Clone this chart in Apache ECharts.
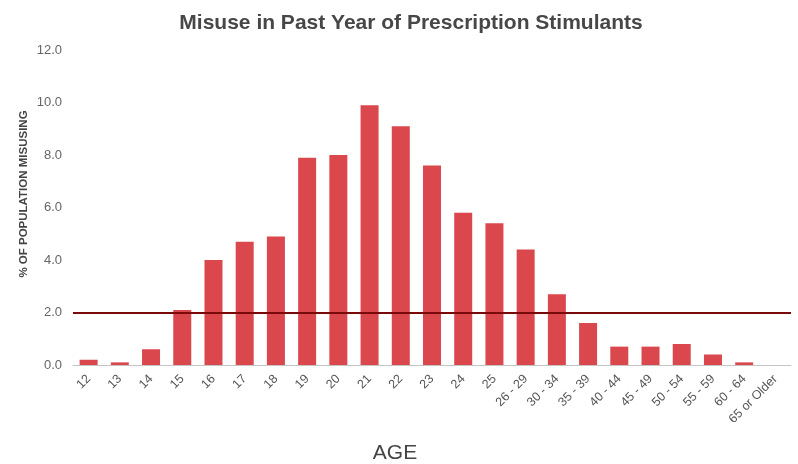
<!DOCTYPE html>
<html>
<head>
<meta charset="utf-8">
<style>
  html, body { margin: 0; padding: 0; background: #ffffff; }
  #chart { width: 798px; height: 464px; }
</style>
<script src="https://cdn.jsdelivr.net/npm/echarts@6/dist/echarts.min.js"></script>
</head>
<body>
<div id="chart"></div>
<script>
// Age groups and percentage of each group misusing prescription stimulants
const ageGroups = ['12', '13', '14', '15', '16', '17', '18', '19', '20', '21', '22', '23', '24', '25',
  '26 - 29', '30 - 34', '35 - 39', '40 - 44', '45 - 49', '50 - 54', '55 - 59', '60 - 64', '65 or Older'];
const misusePercent = [0.2, 0.1, 0.6, 2.1, 4.0, 4.7, 4.9, 7.9, 8.0, 9.9, 9.1, 7.6, 5.8, 5.4,
  4.4, 2.7, 1.6, 0.7, 0.7, 0.8, 0.4, 0.1, 0.0];
// Reference level drawn across the plot
const referenceLevel = 2.0;
const yTicks = { min: 0, max: 12, interval: 2 };

const FONT = '"Liberation Sans", Arial, sans-serif';

const chart = echarts.init(document.getElementById('chart'), null, { renderer: 'canvas' });
chart.setOption({
  backgroundColor: '#ffffff',
  animation: false,
  title: {
    text: 'Misuse in Past Year of Prescription Stimulants',
    left: 406,
    textAlign: 'center',
    top: 8,
    textStyle: { fontFamily: FONT, fontSize: 21, fontWeight: 'bold', color: '#474747' }
  },
  grid: { left: 73, right: 7, top: 50, bottom: 99, containLabel: false, outerBoundsMode: 'none' },
  xAxis: {
    type: 'category',
    data: ageGroups,
    axisLine: { show: true, lineStyle: { color: '#c4c4c4', width: 1 } },
    axisTick: { show: false },
    axisLabel: {
      interval: 0,
      rotate: 45,
      margin: 12,
      fontFamily: FONT,
      fontSize: 12.5,
      color: '#555555'
    },
    name: 'AGE',
    nameLocation: 'middle',
    nameGap: 78,
    nameTextStyle: { fontFamily: FONT, fontSize: 21, color: '#444444', padding: [0, 0, 0, -74] }
  },
  yAxis: {
    type: 'value',
    min: yTicks.min,
    max: yTicks.max,
    interval: yTicks.interval,
    axisLine: { show: false },
    axisTick: { show: false },
    splitLine: { show: false },
    axisLabel: {
      margin: 11,
      formatter: v => v.toFixed(1),
      fontFamily: FONT,
      fontSize: 13,
      color: '#666666'
    }
  },
  graphic: [{
    type: 'text',
    x: 24,
    y: 194,
    rotation: Math.PI / 2,
    style: {
      text: '% OF POPULATION MISUSING',
      fontFamily: FONT,
      fontSize: 11.5,
      fontWeight: 'bold',
      fill: '#444444',
      align: 'center',
      verticalAlign: 'middle'
    }
  }],
  series: [{
    type: 'bar',
    data: misusePercent,
    barWidth: 18,
    itemStyle: { color: '#da474c' },
    markLine: {
      silent: true,
      symbol: ['none', 'none'],
      label: { show: false },
      lineStyle: { color: '#7a0a0a', width: 2, type: 'solid' },
      data: [{ yAxis: referenceLevel }]
    }
  }]
});
</script>
</body>
</html>
